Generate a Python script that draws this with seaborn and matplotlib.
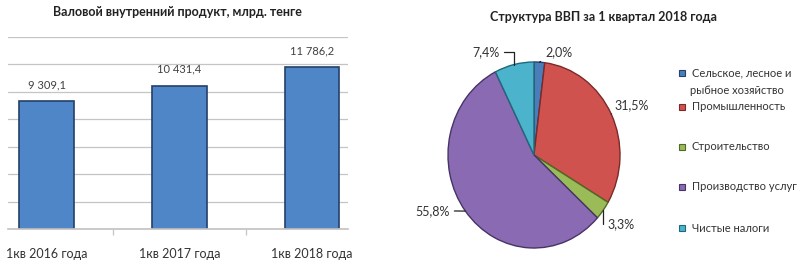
import numpy as np
import pandas as pd
import matplotlib
matplotlib.use("Agg")
import matplotlib.pyplot as plt
from matplotlib.patches import Rectangle
import seaborn as sns

# ---- data ----
bar_categories = ["1кв 2016 года", "1кв 2017 года", "1кв 2018 года"]
bar_values = [9309.1, 10431.4, 11786.2]
bar_title = "Валовой внутренний продукт, млрд. тенге"

pie_labels = ["Сельское, лесное и\nрыбное хозяйство", "Промышленность", "Строительство",
              "Производство услуг", "Чистые налоги"]
pie_values = [2.0, 31.5, 3.3, 55.8, 7.4]
pie_title = "Структура ВВП за 1 квартал 2018 года"

sns.set_theme(style="white")
plt.rcParams["font.family"] = ["Lato", "Open Sans", "DejaVu Sans"]

fig = plt.figure(figsize=(8.0, 2.61), dpi=100)
H = 261.0

# ---- bar chart ----
ax = fig.add_axes([0.01, 1 - 229 / H, 0.425, (229 - 37) / H])
df = pd.DataFrame({"cat": bar_categories, "val": bar_values})
sns.barplot(data=df, x="cat", y="val", ax=ax, color="#4f86c8", width=0.41,
            edgecolor="#24406b", linewidth=1.2, saturation=1)
ax.set_ylim(0, 14000)
ax.set_xlim(-0.29, 2.27)
ax.set_yticks(np.arange(0, 14001, 2000))
ax.yaxis.grid(True, color="#c4c4c4", linewidth=0.9)
ax.set_axisbelow(True)
ax.tick_params(axis="y", left=False, labelleft=False)
ax.set_xlabel("")
ax.set_ylabel("")
for s in ["left", "right", "top"]:
    ax.spines[s].set_visible(False)
ax.spines["bottom"].set_color("#c4c4c4")
ax.tick_params(axis="x", bottom=False, labelsize=9, labelcolor="#333333", pad=8)
ax.set_xticks([0.5, 1.5], minor=True)
ax.tick_params(axis="x", which="minor", bottom=True, length=4, color="#c4c4c4", width=0.9)
lbls = [f"{v:,.1f}".replace(",", " ").replace(".", ",") for v in bar_values]
ax.bar_label(ax.containers[0], labels=lbls, padding=8, fontsize=8, color="#404040")
fig.text(177 / 800, 1 - 12 / H, bar_title, ha="center", va="center",
         fontsize=9, fontweight="bold", color="#222222")

# ---- pie chart ----
pax = fig.add_axes([(534 - 86) / 800, (H - 155 - 93) / H, 172 / 800, 186 / H])
colors = ["#4a7ebb", "#d0524e", "#9bbb59", "#8a6bb3", "#4cb3cc"]
edges = ["#25426b", "#7a2a28", "#4e6a25", "#463466", "#21697a"]
wedges, _ = pax.pie(pie_values, colors=colors, startangle=90, counterclock=False,
                    wedgeprops=dict(linewidth=1.0))
for w, ec in zip(wedges, edges):
    w.set_edgecolor(ec)
pax.set_aspect("auto")
pax.set_xlim(-1, 1)
pax.set_ylim(-1, 1)
pax.axis("off")

text_pos = [(0.13, 1.11), (0.94, 0.54), (0.86, -0.74), (-0.98, -0.6), (-0.40, 1.11)]
has = ["left", "left", "left", "right", "right"]
conns = ["arc3", "arc3", "angle,angleA=0,angleB=90,rad=0", "arc3",
         "angle,angleA=0,angleB=90,rad=0"]
for w, v, tp, ha, cs in zip(wedges, pie_values, text_pos, has, conns):
    mid = np.deg2rad((w.theta1 + w.theta2) / 2)
    ex, ey = np.cos(mid), np.sin(mid)
    pax.annotate(f"{v:.1f}".replace(".", ",") + "%", xy=(ex, ey), xytext=tp,
                 ha=ha, va="center", fontsize=9, color="#333333",
                 arrowprops=dict(arrowstyle="-", color="#222222", lw=0.9,
                                 shrinkA=1, shrinkB=0, connectionstyle=cs),
                 annotation_clip=False)

fig.text(603 / 800, 1 - 17 / H, pie_title, ha="center", va="center",
         fontsize=9, fontweight="bold", color="#222222")

# legend (manual layout)
leg_y = [73, 107, 147, 187, 228]
for lab, c, e, y in zip(pie_labels, colors, edges, leg_y):
    fig.patches.append(Rectangle(((682 - 3) / 800, 1 - (y + 3) / H), 6 / 800, 6 / H,
                                 transform=fig.transFigure, facecolor=c, edgecolor=e,
                                 linewidth=0.8))
    if "\n" in lab:
        first, second = lab.split("\n")
        fig.text(692 / 800, 1 - y / H, first, ha="left", va="center",
                 fontsize=8, color="#333333")
        fig.text(690 / 800, 1 - (y + 17) / H, second, ha="left", va="center",
                 fontsize=8, color="#333333")
    else:
        fig.text(692 / 800, 1 - y / H, lab, ha="left", va="center",
                 fontsize=8, color="#333333")

fig.savefig("out.png", dpi=100, facecolor="white")
